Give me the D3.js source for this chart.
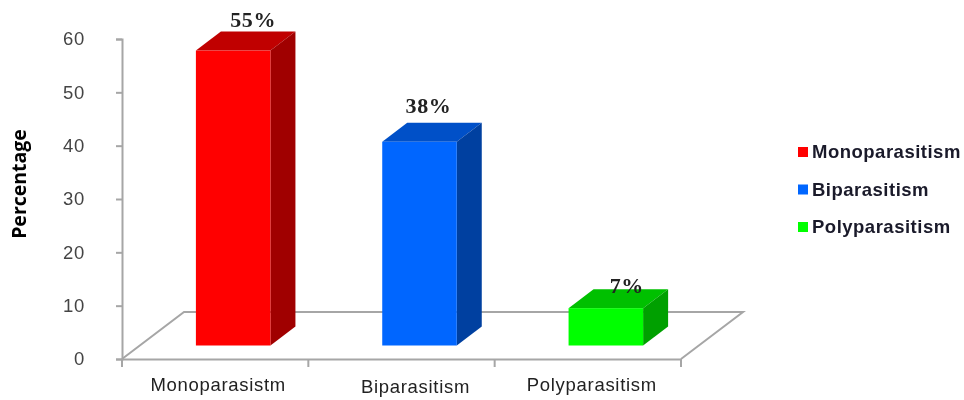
<!DOCTYPE html>
<html>
<head>
<meta charset="utf-8">
<title>Parasitism</title>
<script src="https://d3js.org/d3.v7.min.js"></script>
<style>
    body { margin: 0; background: #fff; }
    svg { display: block; }
    svg text { filter: blur(0.35px); }
    .domain, .tick line { stroke: #a6a6a6; stroke-width: 2; }
    .tick text { font-family: "Liberation Sans", sans-serif; font-size: 18.5px; letter-spacing: 0.7px; }
    .floor { fill: none; stroke: #a6a6a6; stroke-width: 2; }
</style>
</head>
<body>
<svg id="chart" width="964" height="400"></svg>
<script>
    // values
    const categories = ["Monoparasistm", "Biparasitism", "Polyparasitism"];
    const legendNames = ["Monoparasitism", "Biparasitism", "Polyparasitism"];
    const values = [55.3, 38.2, 7];
    const valueLabels = ["55%", "38%", "7%"];
    const yTicks = [0, 10, 20, 30, 40, 50, 60];

    const frontColors = ["#ff0000", "#0066ff", "#00ff00"];
    const topColors = ["#c00000", "#0050c8", "#00c000"];
    const sideColors = ["#a00000", "#0040a0", "#00a000"];

    const svg = d3.select("#chart");

    const x = d3.scaleBand().domain(categories).range([122, 681])
        .paddingInner(0.6).paddingOuter(0.3);
    const y = d3.scaleLinear().domain([0, 60]).range([359, 39]);

    // 3d look: floor depth, bar depth, and where the bars stand on the floor
    const floorDx = 62, floorDy = 47;
    const barDx = 25, barDy = 19;
    const shiftX = 18, shiftY = 13.5;

    // floor
    const floor = d3.path();
    floor.moveTo(x.range()[0], y(0));
    floor.lineTo(x.range()[0] + floorDx, y(0) - floorDy);
    floor.lineTo(x.range()[1] + floorDx, y(0) - floorDy);
    floor.lineTo(x.range()[1], y(0));
    svg.append("path").attr("class", "floor").attr("d", floor.toString());

    // axes
    svg.append("g")
        .attr("transform", "translate(122,0)")
        .call(d3.axisLeft(y).tickValues(yTicks).tickSize(6).tickPadding(31).tickSizeOuter(6))
        .selectAll("text").attr("fill", "#444");

    const xAxis = d3.axisBottom(x).tickSize(0).tickPadding(18);
    const xg = svg.append("g").attr("transform", "translate(0,359)").call(xAxis);
    xg.selectAll(".tick line").remove();
    // labels sit a little off the band centres in the original
    const catDx = [3, 14, 4], catDy = [1, 3, 1];
    xg.selectAll(".tick text")
        .attr("fill", "#222")
        .attr("dx", (d, i) => catDx[i])
        .attr("y", (d, i) => 18 + catDy[i]);

    // category separators
    svg.selectAll(".sep")
        .data(d3.range(4))
        .join("line")
        .attr("class", "sep")
        .attr("x1", i => 122 + i * x.step())
        .attr("x2", i => 122 + i * x.step())
        .attr("y1", 359)
        .attr("y2", 367)
        .attr("stroke", "#a6a6a6")
        .attr("stroke-width", 2);

    // bars
    const bars = svg.selectAll(".bar")
        .data(categories)
        .join("g")
        .attr("class", "bar");

    const barLeft = (d) => x(d) + shiftX;
    const barRight = (d) => x(d) + shiftX + x.bandwidth();
    const barTop = (i) => y(values[i]) - shiftY;
    const barBottom = y(0) - shiftY;
    const pts = (a) => a.map(p => p.join(",")).join(" ");

    bars.append("polygon")
        .attr("fill", (d, i) => topColors[i])
        .attr("points", (d, i) => pts([
            [barLeft(d), barTop(i)],
            [barLeft(d) + barDx, barTop(i) - barDy],
            [barRight(d) + barDx, barTop(i) - barDy],
            [barRight(d), barTop(i)]
        ]));

    bars.append("polygon")
        .attr("fill", (d, i) => sideColors[i])
        .attr("points", (d, i) => pts([
            [barRight(d), barTop(i)],
            [barRight(d) + barDx, barTop(i) - barDy],
            [barRight(d) + barDx, barBottom - barDy],
            [barRight(d), barBottom]
        ]));

    bars.append("rect")
        .attr("fill", (d, i) => frontColors[i])
        .attr("x", d => barLeft(d))
        .attr("y", (d, i) => barTop(i))
        .attr("width", x.bandwidth())
        .attr("height", (d, i) => barBottom - barTop(i));

    // value labels, hand placed like the original
    const labelDx = [20, 9, 21], labelDy = [-24, -29, -15];
    bars.append("text")
        .attr("x", (d, i) => barLeft(d) + x.bandwidth() / 2 + labelDx[i])
        .attr("y", (d, i) => barTop(i) + labelDy[i])
        .attr("text-anchor", "middle")
        .attr("font-family", "Liberation Serif, serif")
        .attr("font-weight", "bold")
        .attr("font-size", 22)
        .attr("letter-spacing", 0.6)
        .attr("fill", "#222")
        .text((d, i) => valueLabels[i]);

    // y title
    svg.append("text")
        .attr("transform", "translate(26,184) rotate(-90)")
        .attr("text-anchor", "middle")
        .attr("font-family", "Open Sans, sans-serif")
        .attr("font-weight", "bold")
        .attr("font-size", 19.5)
        .attr("fill", "#000")
        .text("Percentage");

    // legend
    const legend = svg.selectAll(".legend")
        .data(legendNames)
        .join("g")
        .attr("class", "legend")
        .attr("transform", (d, i) => "translate(798," + (147 + i * 37.5) + ")");

    legend.append("rect")
        .attr("width", 10)
        .attr("height", 10)
        .attr("fill", (d, i) => frontColors[i]);

    legend.append("text")
        .attr("x", 14)
        .attr("y", 11)
        .attr("font-family", "Liberation Sans, sans-serif")
        .attr("font-weight", "bold")
        .attr("font-size", 18.5)
        .attr("letter-spacing", 0.5)
        .attr("fill", "#1a1a2a")
        .text(d => d);
</script>
</body>
</html>
